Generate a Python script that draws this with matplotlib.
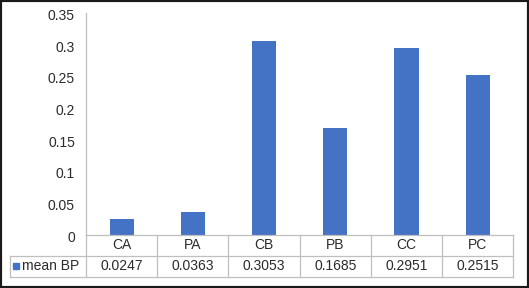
# bar chart with excel style data table underneath

import matplotlib.pyplot as plt
import matplotlib.transforms as mtransforms
from matplotlib.patches import Rectangle
import numpy as np

categories = ["CA", "PA", "CB", "PB", "CC", "PC"]
mean_bp = [0.0247, 0.0363, 0.3053, 0.1685, 0.2951, 0.2515]
series_name = "mean BP"
y_ticks = [0, 0.05, 0.1, 0.15, 0.2, 0.25, 0.3, 0.35]

plt.rcParams['font.family'] = ['Liberation Sans', 'DejaVu Sans']
plt.rcParams['font.size'] = 10

bar_color = '#4472c4'
line_color = '#bfbfbf'
text_color = '#2b2b2b'

W, H = 529, 288
fig = plt.figure(figsize=(W / 100, H / 100), dpi=100)
# axes placed in pixel terms: left 86, right 513, top 13, bottom 235
ax = fig.add_axes([86 / W, (H - 234.7) / H, (513.3 - 86) / W, (234.7 - 13) / H])

x = np.arange(len(categories))
ax.bar(x, mean_bp, width=0.34, color=bar_color, zorder=2)
ax.set_xlim(-0.5, len(categories) - 0.5)
ax.set_ylim(0, 0.35)

ax.set_yticks(y_ticks)
ax.set_yticklabels([f'{v:g}' for v in y_ticks])
ax.tick_params(axis='y', length=0, pad=8, colors=text_color, labelsize=10)
# excel draws the axis labels a touch lower than the tick
for lab in ax.get_yticklabels():
    lab.set_transform(lab.get_transform() +
                      mtransforms.ScaledTranslation(0, -1.5 / 100, fig.dpi_scale_trans))
ax.set_xticks([])
for s in ['top', 'right']:
    ax.spines[s].set_visible(False)
ax.spines['left'].set_color(line_color)
ax.spines['bottom'].set_color(line_color)
ax.spines['left'].set_linewidth(0.9)
ax.spines['bottom'].set_linewidth(0.9)

# data table below the plot
row_h = 21 / (234.7 - 13)
leg_left = (10 - 86) / (513.3 - 86)
blend = mtransforms.blended_transform_factory(ax.transData, ax.transAxes)
lkw = dict(color=line_color, lw=0.9, clip_on=False)

ax.plot([-0.5, -0.5], [0, -2 * row_h], transform=blend, **lkw)
for i in range(len(categories)):
    ax.plot([i + 0.5, i + 0.5], [0, -2 * row_h], transform=blend, **lkw)
ax.plot([leg_left, 1], [-row_h, -row_h], transform=ax.transAxes, **lkw)
ax.plot([leg_left, 1], [-2 * row_h, -2 * row_h], transform=ax.transAxes, **lkw)
ax.plot([leg_left, leg_left], [-row_h, -2 * row_h], transform=ax.transAxes, **lkw)

for i, (c, v) in enumerate(zip(categories, mean_bp)):
    ax.text(i, -0.5 * row_h, c, transform=blend, ha='center', va='center',
            color=text_color)
    ax.text(i, -1.5 * row_h, f'{v:.4f}', transform=blend, ha='center',
            va='center', color=text_color)

ax.plot([(16 - 86) / (513.3 - 86)], [-1.5 * row_h], marker='s', ms=3.8,
        color=bar_color, transform=ax.transAxes, clip_on=False, lw=0)
ax.text((22.5 - 86) / (513.3 - 86), -1.5 * row_h, series_name,
        transform=ax.transAxes, ha='left', va='center', color=text_color)

# outer frame
fig.patches.append(Rectangle((0, 0), 1, 1, transform=fig.transFigure,
                             fill=False, ec='#1a1a1a', lw=3.0))

plt.savefig('out.png', dpi=100)
